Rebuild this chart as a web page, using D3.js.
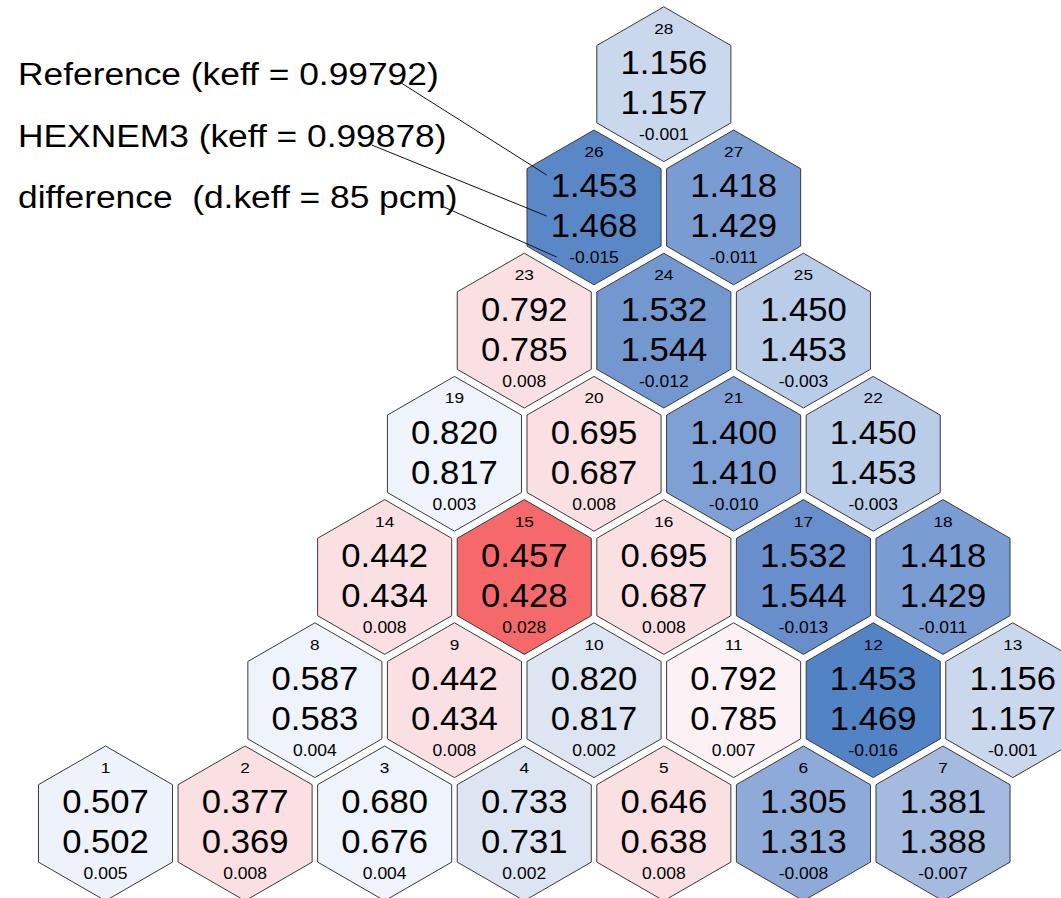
<!DOCTYPE html>
<html>
<head>
<meta charset="utf-8">
<script src="https://cdn.jsdelivr.net/npm/d3@7"></script>
<style>
  html, body { margin: 0; padding: 0; background: #ffffff; }
  svg { display: block; font-family: "Liberation Sans", Arial, sans-serif; }
</style>
</head>
<body>
<svg id="chart" width="1061" height="898"></svg>
<script>
// Assembly numbers of the 1/6 core sector
const assemblies = d3.range(1, 29);

// Lattice position of each assembly: row (bottom = 0) and half-pitch column
const assemblyRow = [0, 0, 0, 0, 0, 0, 0,
                     1, 1, 1, 1, 1, 1,
                     2, 2, 2, 2, 2,
                     3, 3, 3, 3,
                     4, 4, 4,
                     5, 5,
                     6];
const assemblyCol = [0, 2, 4, 6, 8, 10, 12,
                     3, 5, 7, 9, 11, 13,
                     4, 6, 8, 10, 12,
                     5, 7, 9, 11,
                     6, 8, 10,
                     7, 9,
                     8];

// Relative assembly powers: reference solution
const referencePower = [0.507, 0.377, 0.680, 0.733, 0.646, 1.305, 1.381,
                        0.587, 0.442, 0.820, 0.792, 1.453, 1.156,
                        0.442, 0.457, 0.695, 1.532, 1.418,
                        0.820, 0.695, 1.400, 1.450,
                        0.792, 1.532, 1.450,
                        1.453, 1.418,
                        1.156];

// Relative assembly powers: HEXNEM3
const hexnemPower = [0.502, 0.369, 0.676, 0.731, 0.638, 1.313, 1.388,
                     0.583, 0.434, 0.817, 0.785, 1.469, 1.157,
                     0.434, 0.428, 0.687, 1.544, 1.429,
                     0.817, 0.687, 1.410, 1.453,
                     0.785, 1.544, 1.453,
                     1.468, 1.429,
                     1.157];

// Difference (reference - HEXNEM3)
const powerDiff = [0.005, 0.008, 0.004, 0.002, 0.008, -0.008, -0.007,
                   0.004, 0.008, 0.002, 0.007, -0.016, -0.001,
                   0.008, 0.028, 0.008, -0.013, -0.011,
                   0.003, 0.008, -0.010, -0.003,
                   0.008, -0.012, -0.003,
                   -0.015, -0.011,
                   -0.001];

// Legend lines
const legendLines = ["Reference (keff = 0.99792)",
                     "HEXNEM3 (keff = 0.99878)",
                     "difference  (d.keff = 85 pcm)"];

const cells = assemblies.map((id, i) => ({
  id,
  row: assemblyRow[i],
  col: assemblyCol[i],
  ref: referencePower[i],
  nem: hexnemPower[i],
  diff: powerDiff[i]
}));

const svg = d3.select("#chart");

// Half-pitch column -> x, row -> y
const x = d3.scaleLinear().domain([0, 12]).range([105.5, 943]);
const y = d3.scaleLinear().domain([0, 6]).range([823.4, 84.2]);

// Diverging fill by power difference
const color = d3.scaleLinear()
  .domain([-0.016, -0.015, -0.013, -0.012, -0.010, -0.008, -0.007, -0.003, -0.001,
           0.002, 0.003, 0.005, 0.007, 0.008, 0.028])
  .range(["#5283c4", "#5a88c6", "#688fcc", "#7398d0", "#7fa0d4", "#8eaad8", "#a4badf",
          "#b9cce8", "#cad8ee", "#dde5f3", "#eff3fb", "#eef2fb", "#fcf1f4", "#fae0e3",
          "#f6696b"])
  .clamp(true);

// Pointy-top hexagon outline
const R = 77.4;
const hexPoints = d3.range(6).map(k => {
  const a = (Math.PI / 180) * (-90 + 60 * k);
  return [R * Math.cos(a), R * Math.sin(a)];
});
const hexLine = d3.line().curve(d3.curveLinearClosed);

const g = svg.append("g").attr("class", "cells");

const cell = g.selectAll("g.cell")
  .data(cells)
  .join("g")
  .attr("class", "cell")
  .attr("transform", d => `translate(${x(d.col)},${y(d.row)})`);

cell.append("path")
  .attr("d", hexLine(hexPoints))
  .attr("fill", d => color(d.diff))
  .attr("stroke", "#3a3a3a")
  .attr("stroke-width", 1);

// Fixed three decimals with a plain hyphen for negatives
const fmt3 = d3.format(".3f");
const fmt = v => fmt3(v).replace("\u2212", "-");

function label(sel, dy, size, sx, text) {
  sel.append("text")
    .attr("transform", `translate(0,${dy}) scale(${sx},1)`)
    .attr("text-anchor", "middle")
    .attr("font-size", size)
    .attr("fill", "#000")
    .text(text);
}

label(cell, -50.5, 15, 1.15, d => d.id);
label(cell, -10, 33, 1.05, d => fmt(d.ref));
label(cell, 30, 33, 1.05, d => fmt(d.nem));
label(cell, 56, 16.5, 1.06, d => fmt(d.diff));

// Legend text
const legendY = [85, 146.5, 208];
const legend = svg.append("g").attr("class", "legend");
legend.selectAll("text")
  .data(legendLines)
  .join("text")
  .attr("transform", (d, i) => `translate(18,${legendY[i]}) scale(1.14,1)`)
  .attr("font-size", 31)
  .attr("fill", "#000")
  .style("white-space", "pre")
  .text(d => d);

// Leader lines from legend entries to the three values of assembly 26
const c26 = cells.find(d => d.id === 26);
const cx = x(c26.col), cy = y(c26.row);
const leaders = [
  [[401.7, 83.3], [cx - 47.4, cy - 32.4]],
  [[371.7, 145], [cx - 47.4, cy + 8.6]],
  [[443.3, 206.7], [cx - 37.4, cy + 49.6]]
];
svg.append("g").attr("class", "leaders")
  .selectAll("line")
  .data(leaders)
  .join("line")
  .attr("x1", d => d[0][0]).attr("y1", d => d[0][1])
  .attr("x2", d => d[1][0]).attr("y2", d => d[1][1])
  .attr("stroke", "#111")
  .attr("stroke-width", 1);
</script>
</body>
</html>
